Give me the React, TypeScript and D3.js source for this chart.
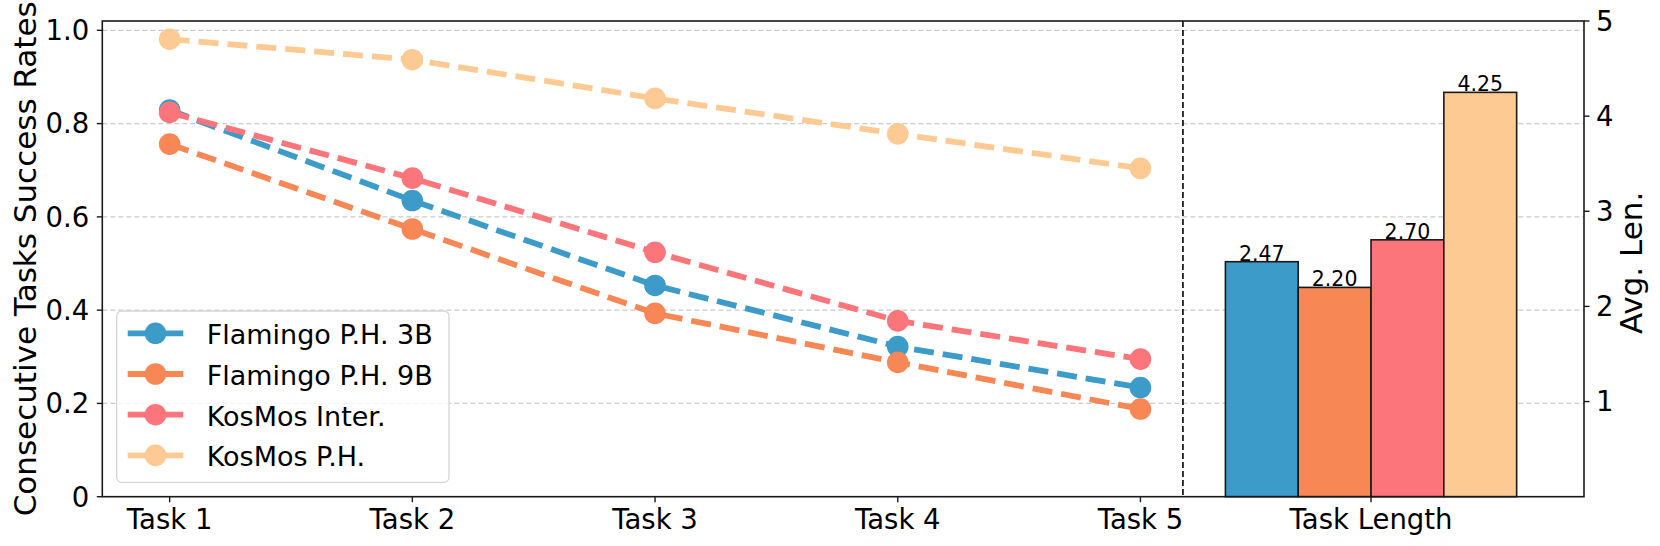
import React from "react";
import * as d3 from "d3";

const tasks = ["Task 1", "Task 2", "Task 3", "Task 4", "Task 5"];
const seriesNames = ["Flamingo P.H. 3B", "Flamingo P.H. 9B", "KosMos Inter.", "KosMos P.H."];
const colors = ["#3C9BC9", "#F78755", "#FC757B", "#FDCA93"];
const flamingo3B = [0.829, 0.635, 0.453, 0.322, 0.234];
const flamingo9B = [0.756, 0.574, 0.393, 0.288, 0.188];
const kosmosInter = [0.824, 0.683, 0.524, 0.377, 0.295];
const kosmosPH = [0.981, 0.937, 0.854, 0.778, 0.704];
const avgLen = [2.47, 2.2, 2.7, 4.25];
const leftTicks = [0, 0.2, 0.4, 0.6, 0.8, 1.0];
const leftTickLabels = ["0", "0.2", "0.4", "0.6", "0.8", "1.0"];
const rightTicks = [1, 2, 3, 4, 5];
const barGroupLabel = "Task Length";

const W = 1660;
const H = 546;
const L = 102.3;
const R = 1584;
const T = 21;
const B = 496.7;
const FONT = "DejaVu Sans, Verdana, sans-serif";

export default function App() {
  const series = [flamingo3B, flamingo9B, kosmosInter, kosmosPH];
  const barW = 0.3;
  const barStart = 4.35;
  const barCenter = barStart + (avgLen.length * barW) / 2;
  const sepX = 4.175;
  const x = d3.scaleLinear().domain([-0.2775, 5.8275]).range([L, R]);
  const yL = d3.scaleLinear().domain([0, 1.02]).range([B, T]);
  const yR = d3.scaleLinear().domain([0, 5]).range([B, T]);
  const line = d3
    .line<number>()
    .x((_, i) => x(i))
    .y((d) => yL(d));

  const legendX = 116.7;
  const legendY = 311;
  const legendW = 332.3;
  const legendH = 171.3;
  const rowH = 40.7;

  return (
    <svg
      width={W}
      height={H}
      style={{ position: "absolute", left: 0, top: 0, background: "#fff" }}
      fontFamily={FONT}
    >
      <rect x={0} y={0} width={W} height={H} fill="#fff" />
      {leftTicks.slice(1).map((t) => (
        <line
          key={"g" + t}
          x1={L}
          x2={R}
          y1={yL(t)}
          y2={yL(t)}
          stroke="#cbcbcb"
          strokeWidth={1.2}
          strokeDasharray="5,3"
        />
      ))}
      <line
        x1={x(sepX)}
        x2={x(sepX)}
        y1={T}
        y2={B}
        stroke="#000"
        strokeWidth={1.6}
        strokeDasharray="6,3"
      />
      {avgLen.map((v, i) => (
        <g key={"b" + i}>
          <rect
            x={x(barStart + i * barW)}
            y={yR(v)}
            width={x(barStart + (i + 1) * barW) - x(barStart + i * barW)}
            height={B - yR(v)}
            fill={colors[i]}
            stroke="#1a1a1a"
            strokeWidth={1.6}
          />
          <text
            x={x(barStart + (i + 0.5) * barW)}
            y={yR(v) - 1}
            textAnchor="middle"
            fontSize={20.5}
            fill="#000"
          >
            {v.toFixed(2)}
          </text>
        </g>
      ))}
      {series.map((s, si) => (
        <g key={"s" + si}>
          <path
            d={line(s) || ""}
            fill="none"
            stroke={colors[si]}
            strokeWidth={5.8}
            strokeDasharray="20,9"
          />
          {s.map((v, i) => (
            <circle key={i} cx={x(i)} cy={yL(v)} r={10.8} fill={colors[si]} />
          ))}
        </g>
      ))}
      <rect x={L} y={T} width={R - L} height={B - T} fill="none" stroke="#1a1a1a" strokeWidth={1.6} />
      {leftTicks.map((t, i) => (
        <g key={"lt" + t}>
          <line x1={L - 5.5} x2={L} y1={yL(t)} y2={yL(t)} stroke="#1a1a1a" strokeWidth={1.4} />
          <text x={L - 13} y={yL(t) + 9.8} textAnchor="end" fontSize={27.5} fill="#000">
            {leftTickLabels[i]}
          </text>
        </g>
      ))}
      {rightTicks.map((t) => (
        <g key={"rt" + t}>
          <line x1={R} x2={R + 5.5} y1={yR(t)} y2={yR(t)} stroke="#1a1a1a" strokeWidth={1.4} />
          <text x={R + 12} y={yR(t) + 9.8} textAnchor="start" fontSize={27.5} fill="#000">
            {t}
          </text>
        </g>
      ))}
      {tasks.map((t, i) => (
        <g key={"bt" + i}>
          <line x1={x(i)} x2={x(i)} y1={B} y2={B + 5.5} stroke="#1a1a1a" strokeWidth={1.4} />
          <text x={x(i)} y={529} textAnchor="middle" fontSize={27.5} fill="#000">
            {t}
          </text>
        </g>
      ))}
      <line x1={x(barCenter)} x2={x(barCenter)} y1={B} y2={B + 5.5} stroke="#1a1a1a" strokeWidth={1.4} />
      <text x={x(barCenter)} y={529} textAnchor="middle" fontSize={27.5} fill="#000">
        {barGroupLabel}
      </text>
      <text
        transform={`translate(36, ${(T + B) / 2}) rotate(-90)`}
        textAnchor="middle"
        fontSize={31}
        fill="#000"
      >
        Consecutive Tasks Success Rates
      </text>
      <text
        transform={`translate(1642, ${(T + B) / 2 + 4}) rotate(-90)`}
        textAnchor="middle"
        fontSize={31}
        fill="#000"
      >
        Avg. Len.
      </text>
      <rect
        x={legendX}
        y={legendY}
        width={legendW}
        height={legendH}
        rx={5}
        fill="#fff"
        fillOpacity={0.8}
        stroke="#d6d6d6"
        strokeWidth={1.3}
      />
      {seriesNames.map((n, i) => {
        const cy = 333.3 + i * rowH;
        return (
          <g key={"lg" + i}>
            <line x1={127.7} x2={183.3} y1={cy} y2={cy} stroke={colors[i]} strokeWidth={5.8} />
            <circle cx={155.5} cy={cy} r={10.8} fill={colors[i]} />
            <text x={206.7} y={cy + 11} fontSize={27} fill="#000">
              {n}
            </text>
          </g>
        );
      })}
    </svg>
  );
}
